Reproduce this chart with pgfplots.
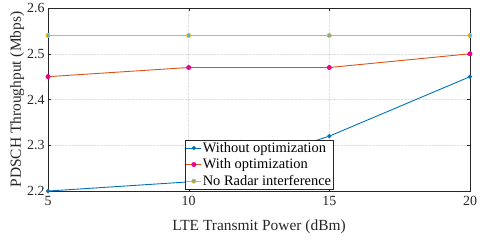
\documentclass[border=0pt]{standalone}
\usepackage{pgfplots}
\pgfplotsset{compat=1.18}
\usepackage{fontspec}
\setmainfont{Liberation Serif}
\definecolor{mblue}{rgb}{0,0.447,0.741}
\definecolor{mred}{rgb}{0.85,0.325,0.098}
\definecolor{myellow}{rgb}{0.929,0.694,0.125}
\definecolor{axgray}{rgb}{0.15,0.15,0.15}
\begin{document}
\begin{tikzpicture}
\begin{axis}[
  scale only axis,
  width=422bp, height=183bp,
  xmin=5, xmax=20, ymin=2.2, ymax=2.6,
  xtick={5,10,15,20}, ytick={2.2,2.3,2.4,2.5,2.6},
  yticklabel style={/pgf/number format/fixed,/pgf/number format/precision=1,/pgf/number format/fixed zerofill},
  xticklabel style={yshift=-2pt},
  /pgf/number format/assume math mode=true,
  tick align=inside, tick pos=both,
  major tick length=3pt,
  axis line style={axgray, line width=0.5pt},
  tick style={axgray},
  grid=major,
  grid style={densely dotted, gray!25, line width=0.4pt},
  ticklabel style={font=\fontsize{14}{15}\selectfont, text=axgray},
  xlabel={LTE Transmit Power (dBm)},
  ylabel={PDSCH Throughput (Mbps)},
  label style={font=\fontsize{15.5}{16}\selectfont, text=axgray},
  xlabel style={yshift=-7pt},
  ylabel style={yshift=-4pt},
  legend style={at={(0.5,0.01)}, anchor=south, font=\fontsize{14.5}{15}\selectfont,
    draw=axgray, line width=0.5pt, inner sep=1pt, row sep=3pt, fill=white,
    legend cell align=left, text=black, nodes={inner sep=1pt}},
  legend image code/.code={\draw[#1] (0bp,0bp) -- (15bp,0bp); \draw[#1,mark repeat=1] plot coordinates {(7.5bp,0bp)};},
]
\addplot[mblue, line width=0.9pt, mark=*, mark size=1.6pt, mark options={fill=mblue, draw=mblue}]
  coordinates {(5,2.20) (10,2.22) (15,2.32) (20,2.45)};
\addlegendentry{Without optimization}
\addplot[mred, line width=0.9pt, mark=*, mark size=2pt, mark options={fill=magenta, draw=magenta}]
  coordinates {(5,2.45) (10,2.47) (15,2.47) (20,2.50)};
\addlegendentry{With optimization}
\addplot[myellow, line width=0.9pt, mark=*, mark size=2pt, mark options={fill=cyan!80!white, draw=myellow}]
  coordinates {(5,2.54) (10,2.54) (15,2.54) (20,2.54)};
\addlegendentry{No Radar interference}
\end{axis}
\path (current axis.south east) ++(21bp,-56bp);
\path (current axis.south west) ++(-48bp,0bp);
\end{tikzpicture}
\end{document}
